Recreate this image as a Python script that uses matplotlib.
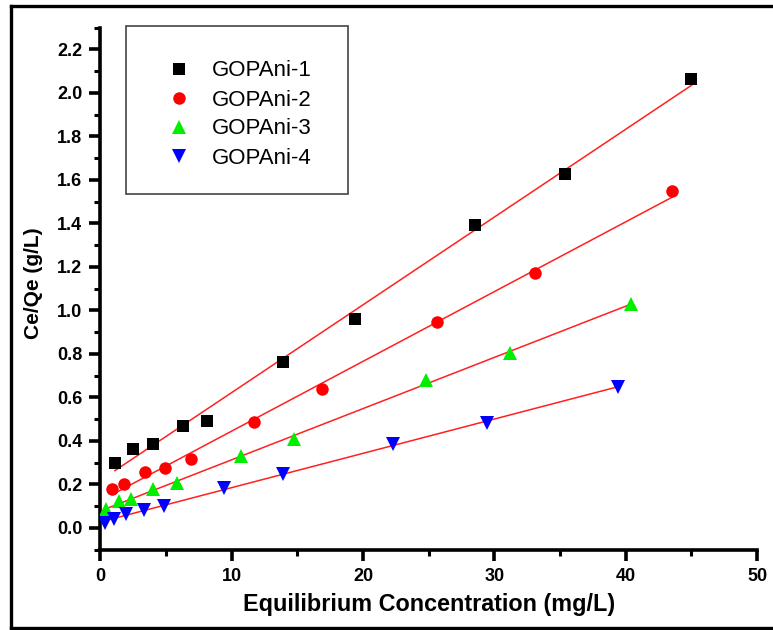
import numpy as np
import matplotlib
matplotlib.use("Agg")
import matplotlib.pyplot as plt
from matplotlib.lines import Line2D
from matplotlib.patches import Rectangle
from matplotlib.ticker import MultipleLocator

plt.rcParams['font.family'] = ['Liberation Sans', 'DejaVu Sans']

# Langmuir linearised isotherm data: Ce (mg/L) vs Ce/Qe (g/L)
labels = ["GOPAni-1", "GOPAni-2", "GOPAni-3", "GOPAni-4"]

ce_1 = [1.1, 2.5, 4.0, 6.3, 8.1, 13.9, 19.4, 28.5, 35.4, 45.0]
cq_1 = [0.30, 0.364, 0.385, 0.469, 0.49, 0.763, 0.962, 1.394, 1.628, 2.065]

ce_2 = [0.9, 1.8, 3.4, 4.9, 6.9, 11.7, 16.9, 25.6, 33.1, 43.5]
cq_2 = [0.178, 0.20, 0.256, 0.277, 0.317, 0.486, 0.638, 0.948, 1.171, 1.548]

ce_3 = [0.45, 1.4, 2.3, 4.0, 5.8, 10.7, 14.7, 24.8, 31.2, 40.4]
cq_3 = [0.085, 0.122, 0.131, 0.177, 0.207, 0.333, 0.408, 0.682, 0.806, 1.028]

ce_4 = [0.33, 1.0, 1.96, 3.3, 4.8, 9.4, 13.9, 22.3, 29.4, 39.4]
cq_4 = [0.024, 0.040, 0.066, 0.082, 0.100, 0.182, 0.249, 0.388, 0.483, 0.649]

xs = [ce_1, ce_2, ce_3, ce_4]
ys = [cq_1, cq_2, cq_3, cq_4]
colors = ["#000000", "#ff0000", "#00ee00", "#0000ff"]
markers = ["s", "o", "^", "v"]
msizes = [8, 9, 9.5, 9.5]

fig = plt.figure(figsize=(7.73, 6.30), dpi=100)
ax = fig.add_axes([0.130, 0.1274, 0.8495, 0.8286])

handles = []
for x, y, c, m, ms, lab in zip(xs, ys, colors, markers, msizes, labels):
    x = np.asarray(x)
    y = np.asarray(y)
    k, b = np.polyfit(x, y, 1)
    xf = np.array([x.min(), x.max()])
    ax.plot(xf, k * xf + b, color="#ff2020", lw=1.1, zorder=2)
    ax.plot(x, y, linestyle="none", marker=m, color=c, markersize=ms,
            markeredgewidth=0, zorder=3)
    handles.append(Line2D([], [], linestyle="none", marker=m, color=c,
                          markersize=ms, markeredgewidth=0, label=lab))

ax.set_xlim(0, 50)
ax.set_ylim(-0.1, 2.3)
ax.xaxis.set_major_locator(MultipleLocator(10))
ax.xaxis.set_minor_locator(MultipleLocator(5))
ax.yaxis.set_minor_locator(MultipleLocator(0.1))
yt = np.arange(0, 2.21, 0.2)
ax.set_yticks(yt)
ax.set_yticklabels([f"{v:.1f}" for v in yt])

for side in ("top", "right"):
    ax.spines[side].set_visible(False)
for side in ("left", "bottom"):
    ax.spines[side].set_linewidth(2.6)

ax.tick_params(which="major", direction="out", length=8, width=2.6,
               labelsize=13, pad=5)
ax.tick_params(which="minor", direction="out", length=4.5, width=2.2)
for t in ax.get_xticklabels() + ax.get_yticklabels():
    t.set_fontweight("bold")

ax.set_xlabel("Equilibrium Concentration (mg/L)", fontsize=16.8,
              fontweight="bold")
ax.set_ylabel("Ce/Qe (g/L)", fontsize=15, fontweight="bold")
ax.xaxis.set_label_coords(0.5, -0.083)
ax.yaxis.set_label_coords(-0.088, 0.51)

# legend box
W, H = 773, 630
fig.patches.append(Rectangle((126 / W, 1 - 194 / H), (348 - 126) / W,
                             (194 - 26) / H, transform=fig.transFigure,
                             fill=False, edgecolor="#444444", lw=1.2,
                             zorder=5))
fig.legend(handles=handles, loc="upper left",
           bbox_to_anchor=(167.9 / W, 1 - 60.5 / H), frameon=False,
           fontsize=16, borderpad=0, borderaxespad=0, handlelength=1.0,
           handletextpad=0.99, labelspacing=0.36)

# outer frame around the figure
frame_kw = dict(color="black", lw=2.4, transform=fig.transFigure)
fig.add_artist(Line2D([11 / W, 1.0], [1 - 6 / H, 1 - 6 / H], **frame_kw))
fig.add_artist(Line2D([11 / W, 1.0], [1 - 628 / H, 1 - 628 / H], **frame_kw))
fig.add_artist(Line2D([11 / W, 11 / W], [1 - 6 / H, 1 - 628 / H], **frame_kw))

fig.savefig("out.png", dpi=100)
